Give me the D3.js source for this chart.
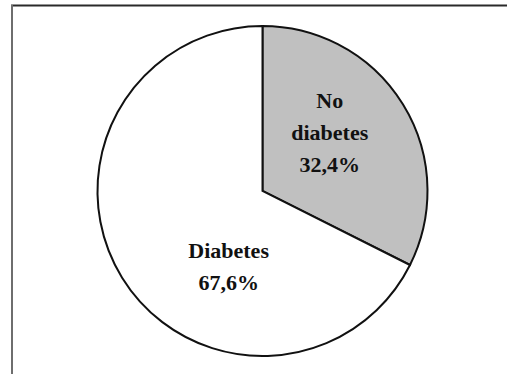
<!DOCTYPE html>
<html>
<head>
<meta charset="utf-8">
<script src="https://cdn.jsdelivr.net/npm/d3@7"></script>
<style>
  html, body { margin: 0; padding: 0; background: #fff; }
  svg { display: block; }
</style>
</head>
<body>
<svg id="chart" width="507" height="374"></svg>
<script>
// Share of patients by diabetes status
const categories = ["No diabetes", "Diabetes"];
const values = [32.4, 67.6];
const labelLines = [["No", "diabetes", "32,4%"], ["Diabetes", "67,6%"]];
const fills = ["#c0c0c0", "#ffffff"];

const W = 507, H = 374;
const svg = d3.select("#chart");

// panel frame: top and left edges only
svg.append("line").attr("x1", 11).attr("x2", W).attr("y1", 5.5).attr("y2", 5.5)
  .attr("stroke", "#2a2a2a").attr("stroke-width", 2);
svg.append("line").attr("x1", 12).attr("x2", 12).attr("y1", 5).attr("y2", H)
  .attr("stroke", "#6e6e6e").attr("stroke-width", 2);

const cx = 262.5, cy = 191, r = 165;
const g = svg.append("g").attr("transform", `translate(${cx},${cy})`);

const pie = d3.pie().sort(null).value(d => d);
const arcs = pie(values);
const arc = d3.arc().innerRadius(0).outerRadius(r);

g.selectAll("path.slice").data(arcs).join("path")
  .attr("class", "slice")
  .attr("d", arc)
  .attr("fill", (d, i) => fills[i])
  .attr("stroke", "#111")
  .attr("stroke-width", 2)
  .attr("stroke-linejoin", "miter");

// label anchor inside each slice: fraction along the slice's sweep and of the radius
const labelPlace = [{ t: 0.42, k: 0.54 }, { t: 0.36, k: 0.50 }];
const lineH = 31.7;

arcs.forEach((d, i) => {
  const p = labelPlace[i];
  const a = d.startAngle + (d.endAngle - d.startAngle) * p.t;
  const x = Math.sin(a) * r * p.k;
  const y = -Math.cos(a) * r * p.k;
  const lines = labelLines[i];
  const t = g.append("text")
    .attr("text-anchor", "middle")
    .attr("font-family", "'Liberation Serif', 'Times New Roman', serif")
    .attr("font-weight", "bold")
    .attr("font-size", 22)
    .attr("fill", "#111");
  lines.forEach((s, j) => {
    t.append("tspan")
      .attr("x", x)
      .attr("y", y + (j - (lines.length - 1) / 2) * lineH + 7.5)
      .text(s);
  });
});
</script>
</body>
</html>
